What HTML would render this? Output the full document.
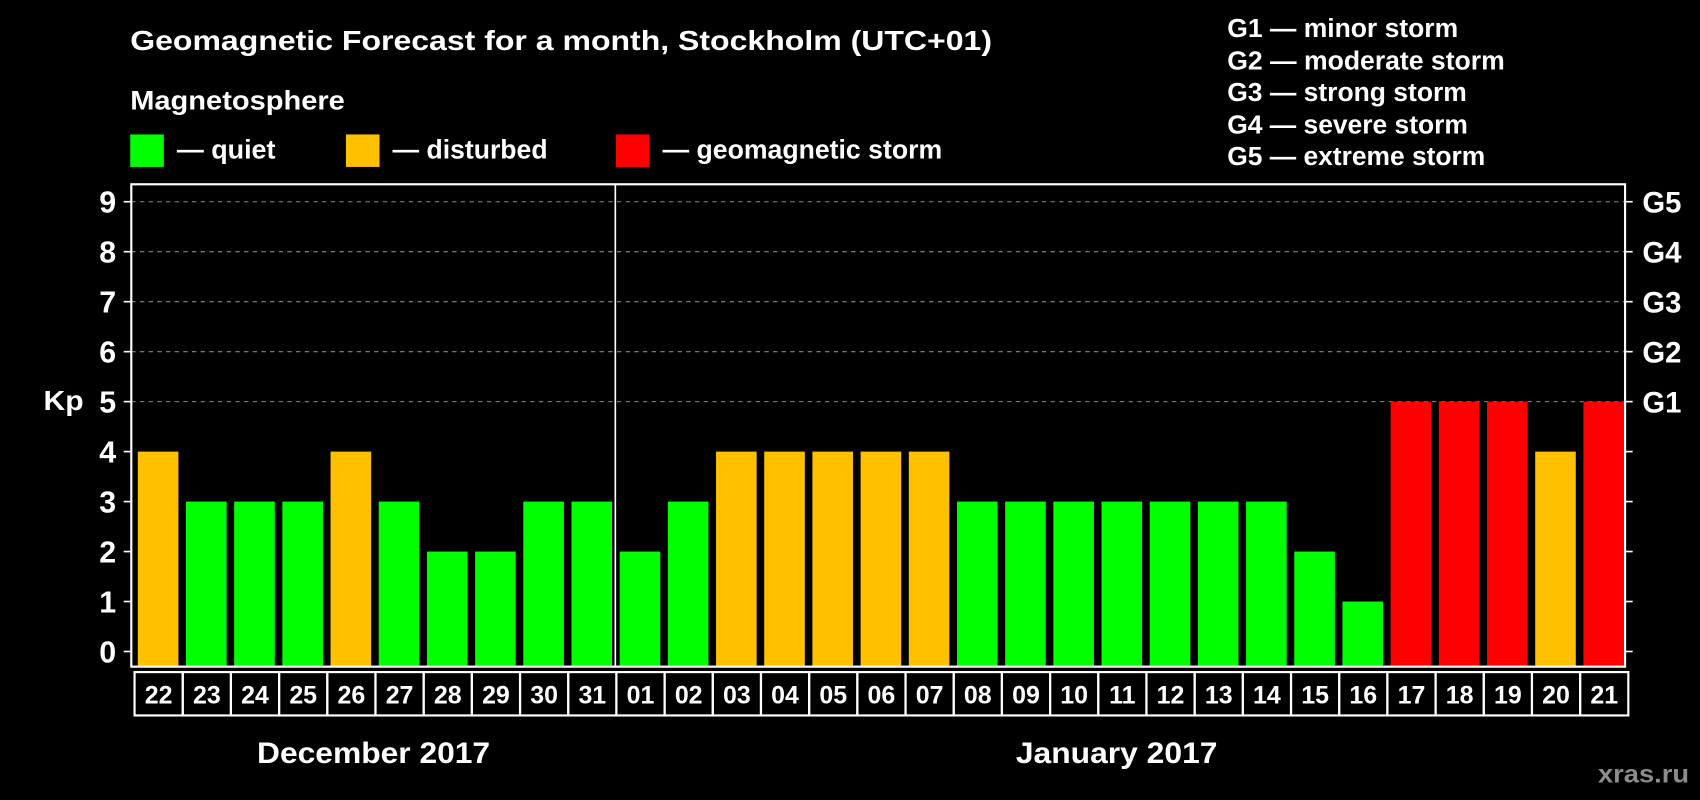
<!DOCTYPE html>
<html><head><meta charset="utf-8"><style>
html,body{margin:0;padding:0;background:#000;}
svg{display:block;}
text{font-family:"Liberation Sans",Arial,sans-serif;font-weight:bold;fill:#fff;}
</style></head><body>
<svg id="chart" width="1700" height="800" viewBox="0 0 1568 738" xmlns="http://www.w3.org/2000/svg">
<rect width="1568" height="738" fill="#000"/>
<text x="120" y="46" font-size="25.5" textLength="795" lengthAdjust="spacingAndGlyphs">Geomagnetic Forecast for a month, Stockholm (UTC+01)</text>
<text x="120" y="101" font-size="25" textLength="198" lengthAdjust="spacingAndGlyphs">Magnetosphere</text>
<g><rect x="120" y="124" width="31" height="30" fill="#00ff00"/><text x="163" y="146" font-size="25" textLength="91" lengthAdjust="spacingAndGlyphs">— quiet</text></g>
<g><rect x="319" y="124" width="31" height="30" fill="#ffc000"/><text x="362" y="146" font-size="25" textLength="143" lengthAdjust="spacingAndGlyphs">— disturbed</text></g>
<g><rect x="568" y="124" width="31" height="30" fill="#ff0000"/><text x="611" y="146" font-size="25" textLength="258" lengthAdjust="spacingAndGlyphs">— geomagnetic storm</text></g>
<g font-size="24">
<text x="1132" y="34" textLength="213" lengthAdjust="spacingAndGlyphs">G1 — minor storm</text>
<text x="1132" y="64" textLength="256" lengthAdjust="spacingAndGlyphs">G2 — moderate storm</text>
<text x="1132" y="93" textLength="221" lengthAdjust="spacingAndGlyphs">G3 — strong storm</text>
<text x="1132" y="123" textLength="222" lengthAdjust="spacingAndGlyphs">G4 — severe storm</text>
<text x="1132" y="152" textLength="238" lengthAdjust="spacingAndGlyphs">G5 — extreme storm</text>
</g>
<text x="40" y="378" font-size="26" textLength="37" lengthAdjust="spacingAndGlyphs">Kp</text>
<g id="plot"></g>
<text x="237" y="704" font-size="27" textLength="215" lengthAdjust="spacingAndGlyphs">December 2017</text>
<text x="937" y="704" font-size="27" textLength="186" lengthAdjust="spacingAndGlyphs">January 2017</text>
<text x="1474" y="722" font-size="23" textLength="84" lengthAdjust="spacingAndGlyphs" style="fill:#8c8c8c">xras.ru</text>
</svg>
<script>
const labels=["22","23","24","25","26","27","28","29","30","31","01","02","03","04","05","06","07","08","09","10","11","12","13","14","15","16","17","18","19","20","21"];
const kp=[4,3,3,3,4,3,2,2,3,3,2,3,4,4,4,4,4,3,3,3,3,3,3,3,2,1,5,5,5,4,5];
const yTicks=[0,1,2,3,4,5,6,7,8,9];
const gLabels=["G1","G2","G3","G4","G5"];
const NS="http://www.w3.org/2000/svg";
const L=121,R=1499,T=170,B=615;
const n=kp.length;
const step=(R-L)/n;
const y=v=>601-v*46.1;
const x=i=>L+i*step;
const col=v=>v>=5?"#ff0000":v===4?"#ffc000":"#00ff00";
const g=document.getElementById("plot");
function mk(t,a){const e=document.createElementNS(NS,t);for(const k in a)e.setAttribute(k,a[k]);g.appendChild(e);return e;}
yTicks.forEach(v=>{
  if(v>=5){const gl=mk("line",{x1:L,x2:R,y1:y(v),y2:y(v),stroke:"#888","stroke-dasharray":"4,4","stroke-width":1});
  
  }
  const t1=mk("line",{x1:L-7,x2:L,y1:y(v),y2:y(v),stroke:"#fff","stroke-width":1.5});
  
  
  const t2=mk("line",{x1:R,x2:R+7,y1:y(v),y2:y(v),stroke:"#fff","stroke-width":1.5});
  
  
  const tl=mk("text",{x:L-14,y:y(v)+10,"font-size":28,"text-anchor":"end"});tl.textContent=v;
  
  
});
gLabels.forEach((s,i)=>{const t=mk("text",{x:R+16,y:y(5+i)+10,"font-size":27,textLength:36,lengthAdjust:"spacingAndGlyphs"});t.textContent=s;
  
  });
kp.forEach((v,i)=>{
  const b=mk("rect",{x:x(i)+6,y:y(v),width:step-7,height:B-y(v),fill:col(v)});
  
  
  const c=mk("rect",{x:x(i)+3,y:620,width:step,height:40,fill:"none",stroke:"#fff","stroke-width":2});
  
  
  const t=mk("text",{x:x(i)+3+step/2,y:649,"font-size":23,"text-anchor":"middle"});t.textContent=labels[i];
  
  
});
const f=mk("rect",{x:L,y:T,width:R-L,height:B-T,fill:"none",stroke:"#fff","stroke-width":2});


const sep=mk("line",{x1:x(10)+2,x2:x(10)+2,y1:T,y2:B,stroke:"#fff","stroke-width":1.5});


</script>
</body></html>
